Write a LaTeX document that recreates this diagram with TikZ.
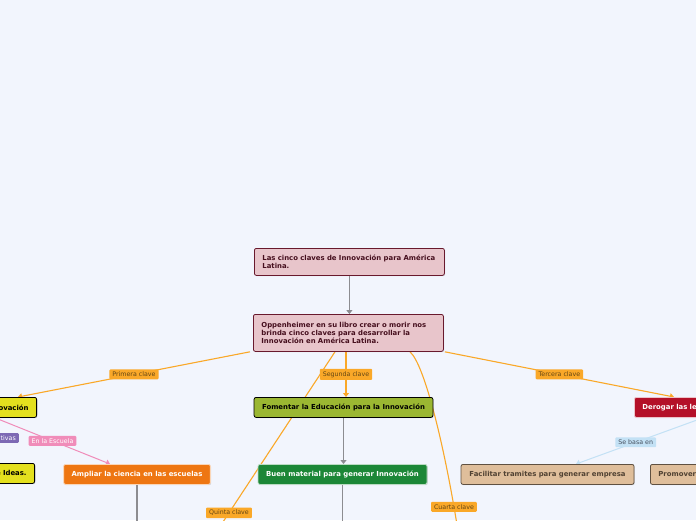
\documentclass[tikz,border=0pt]{standalone}
\usepackage{fontspec}
\setmainfont{DejaVu Sans}
\usepackage{tikz}
\usetikzlibrary{positioning, arrows.meta, shadows, backgrounds}
\usepackage{xcolor}
\definecolor{PageBlue}{RGB}{242, 245, 253}
\definecolor{RootPink}{RGB}{232, 197, 203}
\definecolor{RootLine}{RGB}{105, 25, 45}
\definecolor{RootText}{RGB}{70, 15, 30}
\definecolor{KeyOrange}{RGB}{250, 168, 40}
\definecolor{KeyText}{RGB}{100, 70, 20}
\definecolor{IdeaYellow}{RGB}{228, 224, 30}
\definecolor{EduGreen}{RGB}{155, 183, 50}
\definecolor{MatGreen}{RGB}{28, 135, 55}
\definecolor{SciOrange}{RGB}{238, 118, 18}
\definecolor{LawRed}{RGB}{180, 16, 40}
\definecolor{TramTan}{RGB}{223, 190, 155}
\definecolor{TramLine}{RGB}{95, 80, 65}
\definecolor{TramText}{RGB}{80, 65, 50}
\definecolor{VioletTag}{RGB}{125, 105, 180}
\definecolor{PinkLine}{RGB}{240, 140, 185}
\definecolor{SkyLine}{RGB}{195, 225, 245}
\definecolor{SkyText}{RGB}{70, 80, 95}
\definecolor{GrayLine}{RGB}{140, 140, 145}

\begin{document}
\begin{tikzpicture}[x=1pt, y=-1pt, >={Triangle[length=4pt, width=6pt]},
  topic/.style={draw, rounded corners=2pt, line width=0.8pt, inner xsep=8pt, inner ysep=2pt,
    minimum height=20pt, font=\fontsize{6.9}{8.3}\selectfont\bfseries,
    drop shadow={shadow xshift=0.8pt, shadow yshift=-0.8pt, opacity=0.25}},
  tag/.style={rounded corners=1pt, inner xsep=3pt, inner ysep=2.5pt, font=\fontsize{6.3}{7}\selectfont},
  keytag/.style={tag, fill=KeyOrange, text=KeyText},
  keyline/.style={draw=KeyOrange, line width=1.1pt},
  grayline/.style={draw=GrayLine, line width=1.1pt}]

\useasboundingbox (0,0) rectangle (696,520);

\node[topic, anchor=north west, fill=RootPink, draw=RootLine, text=RootText, text width=174pt, align=left, minimum height=27pt]
  (libro) at (254,248) {Las cinco claves de Innovación para América\\Latina.};
\node[topic, anchor=north west, fill=RootPink, draw=RootLine, text=RootText, text width=174pt, align=left, minimum height=37pt]
  (claves) at (253,314) {Oppenheimer en su libro crear o morir nos\\brinda cinco claves para desarrollar la\\Innovación en América Latina.};

\node[topic, anchor=north east, fill=IdeaYellow, draw=black, text width=80pt, align=right] (cultura) at (37,397) {ovación};
\node[topic, anchor=north] (fomentar) at (343.5,397) [fill=EduGreen, draw=black] {Fomentar la Educación para la Innovación};
\node[topic, anchor=north west, fill=LawRed, draw=white!75!LawRed, text=white, text width=80pt, align=left] (derogar) at (634,397) {Derogar las le};

\node[topic, anchor=north east, fill=IdeaYellow, draw=black, text width=80pt, align=right] (ideas) at (35,463) {e Ideas.};
\node[topic, anchor=north, fill=SciOrange, draw=white!70!SciOrange, text=white, minimum width=146pt] (ampliar) at (137,464) {Ampliar la ciencia en las escuelas};
\node[topic, anchor=north, fill=MatGreen, draw=white!70!MatGreen, text=white, minimum width=169pt] (material) at (342.5,464) {Buen material para generar Innovación};
\node[topic, anchor=north, fill=TramTan, draw=TramLine, text=TramText, minimum width=173pt] (tramites) at (547.5,464) {Facilitar tramites para generar empresa};
\node[topic, anchor=north west, fill=TramTan, draw=TramLine, text=TramText, text width=80pt, align=left] (promover) at (650,464) {Promover};

\node[tag, anchor=east, fill=VioletTag, text=white] (creativas) at (19,438) {tivas};

\coordinate (quinta) at (221,525);
\coordinate (cuarta) at (457,525);
\coordinate (cienciaend) at (137,525);
\coordinate (materialend) at (342.5,525);

\begin{scope}[on background layer]
\fill[PageBlue] (0,0) rectangle (696,520);

\draw[grayline, ->] (libro.south) -- (libro.south |- claves.north);

\draw[keyline, ->] ([xshift=-3pt]claves.south west) -- node[keytag] {Primera clave} ([xshift=-19pt]cultura.north east);
\draw[keyline, ->] ([xshift=93pt]claves.south west) -- node[keytag] {Segunda clave} ([xshift=93pt]claves.south west |- fomentar.north);
\draw[keyline, ->] ([xshift=1pt]claves.south east) -- node[keytag] {Tercera clave} ([xshift=40pt]derogar.north west);
\draw[keyline] ([xshift=157pt]claves.south west) .. controls (425,365) and (445,450) .. node[keytag, pos=0.92] {Cuarta clave} (cuarta);
\draw[keyline] ([xshift=82pt]claves.south west) -- node[keytag, pos=0.93] {Quinta clave} (quinta);

\draw[draw=PinkLine, line width=1pt, ->] ([xshift=-42pt]cultura.south east) -- node[tag, fill=PinkLine, text=white] {En la Escuela} ([xshift=-27pt]ampliar.north);
\draw[draw=SkyLine, line width=1pt, ->] ([xshift=69pt]derogar.south west) -- node[tag, fill=SkyLine, text=SkyText, pos=0.53] {Se basa en} ([xshift=28.5pt]tramites.north);

\draw[grayline, ->] (fomentar.south) -- (fomentar.south |- material.north);
\draw[grayline] (ampliar.south) -- (cienciaend);
\draw[grayline] (material.south) -- (materialend);
\end{scope}

\end{tikzpicture}
\end{document}
